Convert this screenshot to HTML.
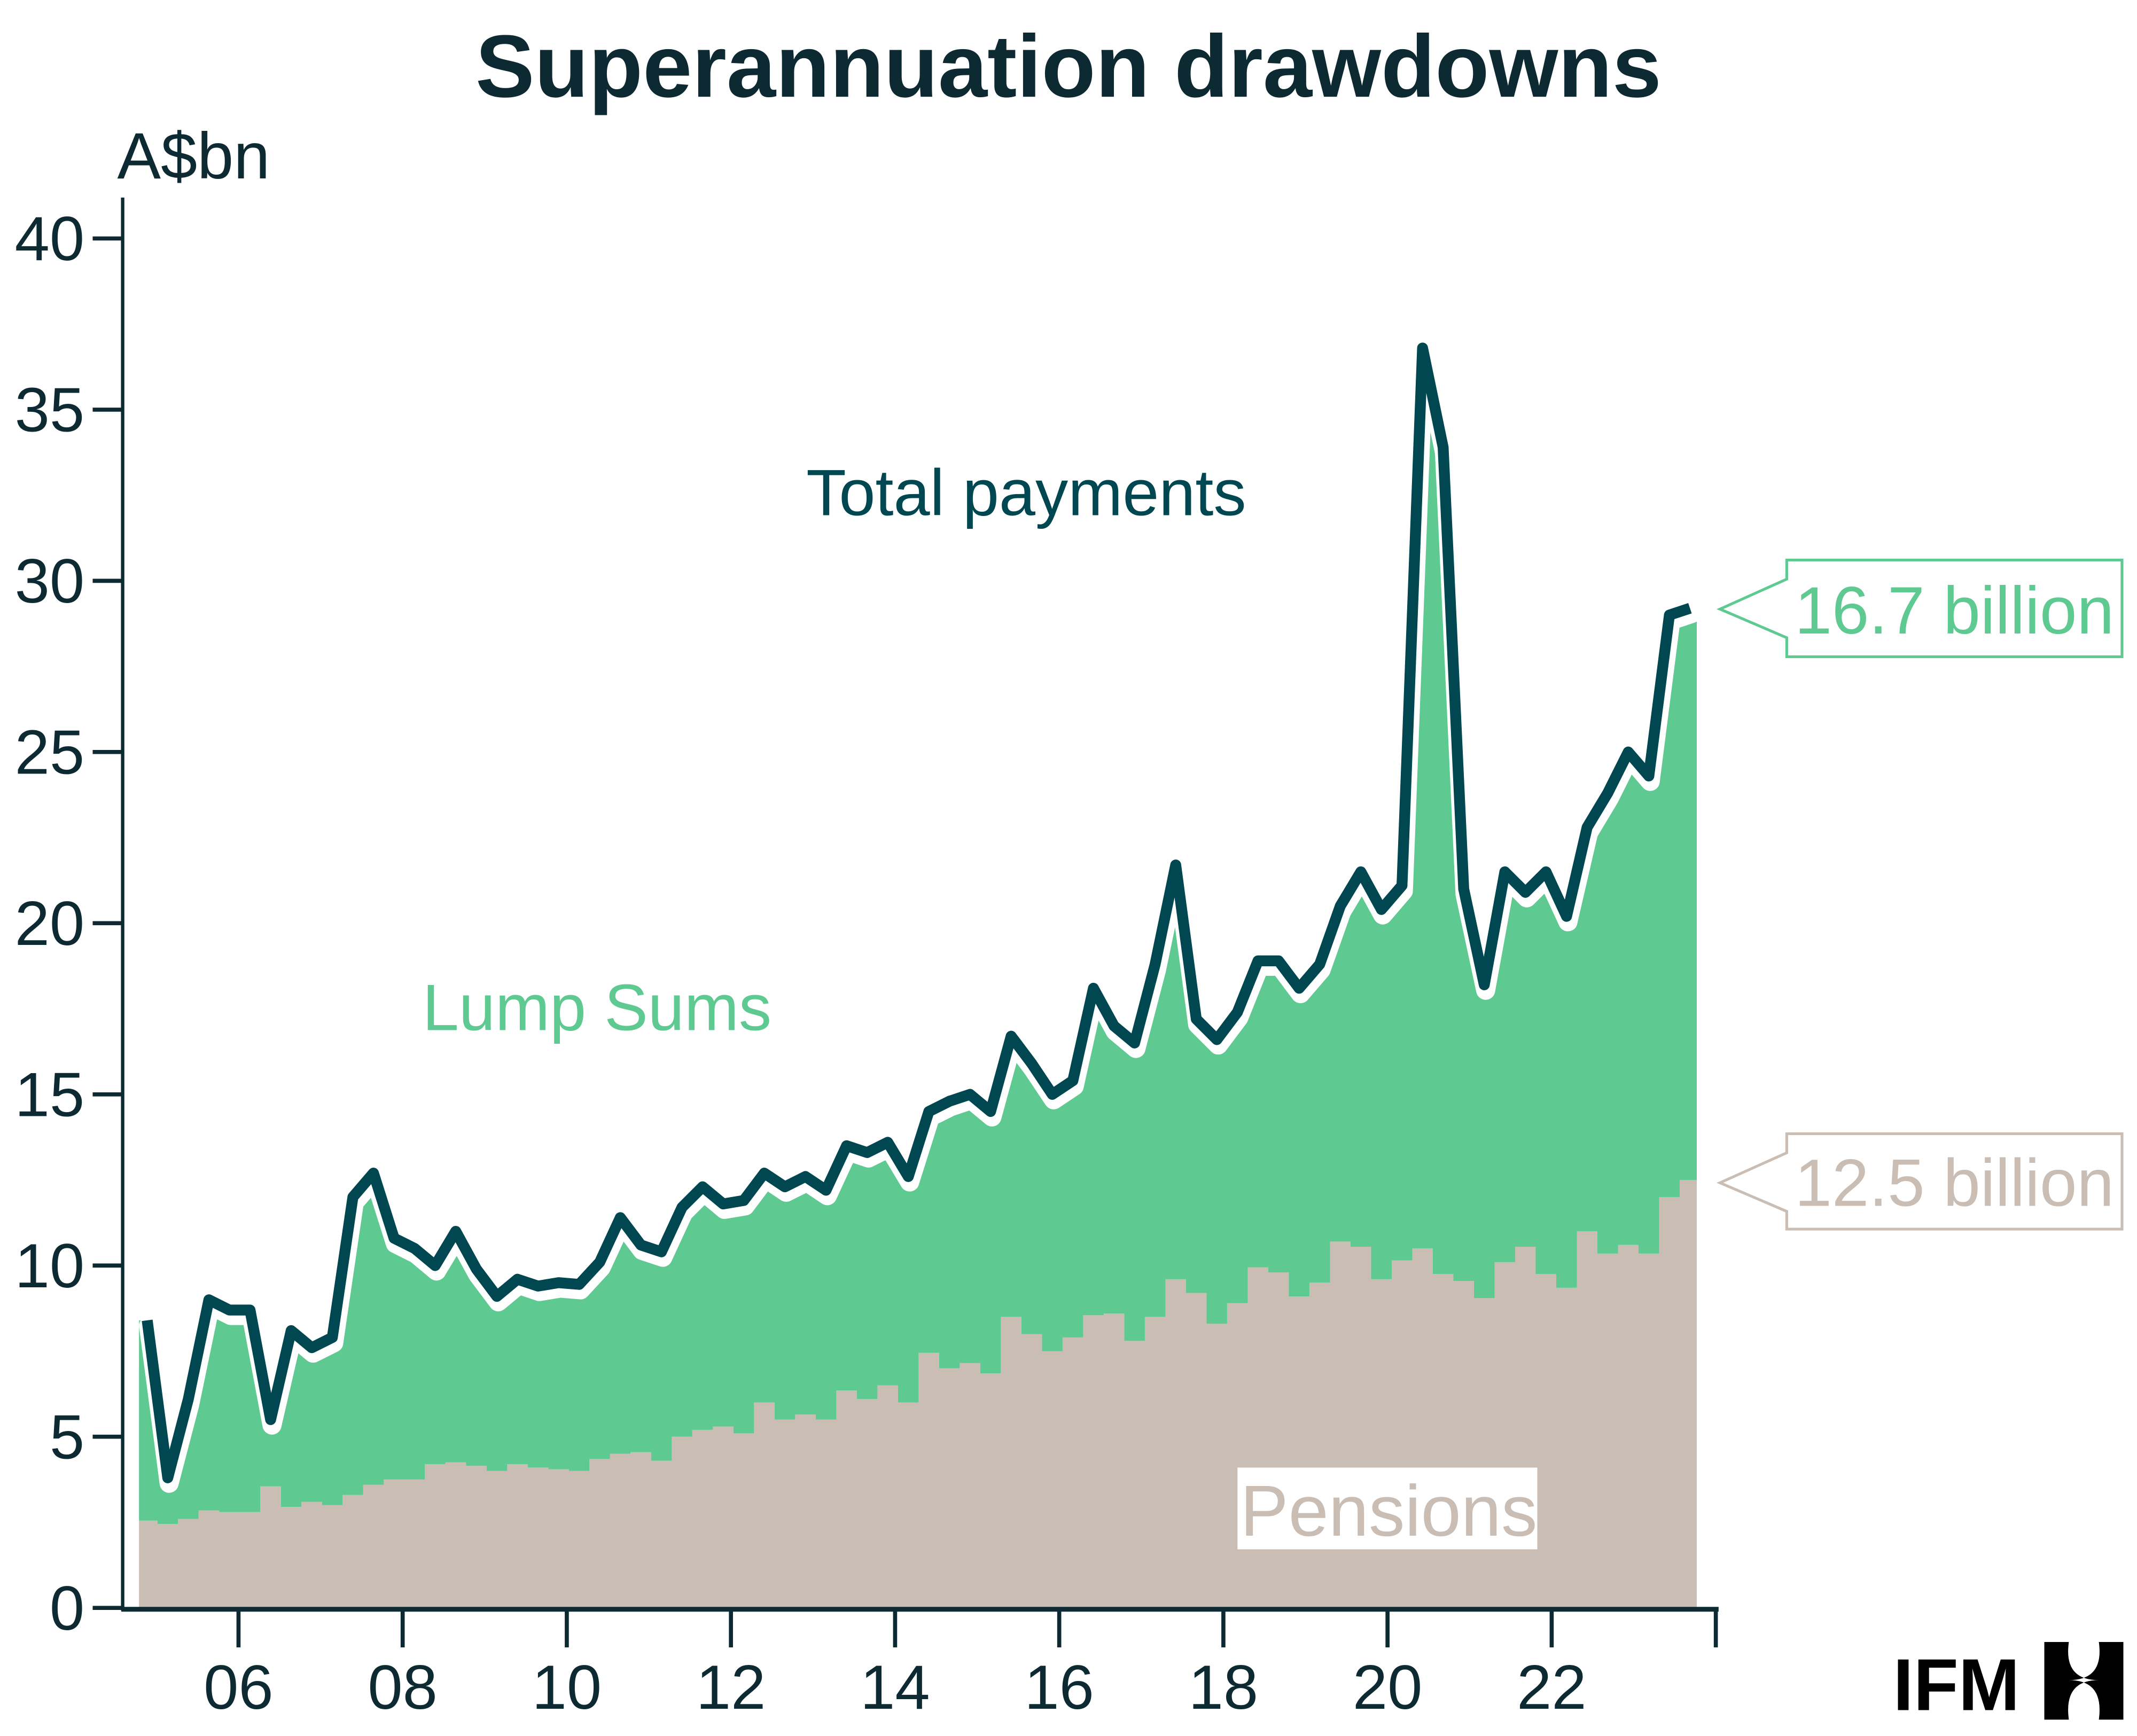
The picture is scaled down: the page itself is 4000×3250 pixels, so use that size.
<!DOCTYPE html>
<html><head><meta charset="utf-8"><style>html,body{margin:0;padding:0;background:#fff}svg{display:block}text{font-family:"Liberation Sans",Arial,sans-serif}</style></head>
<body>
<svg id="chart" width="4000" height="3250" viewBox="0 0 1568 1274" xmlns="http://www.w3.org/2000/svg">
<text x="784" y="71" text-anchor="middle" font-size="65" font-weight="bold" fill="#0d2a33">Superannuation drawdowns</text>
<text x="86" y="131" font-size="48" fill="#0d2a33">A$bn</text>
<g id="pen"></g>
<g id="lump"></g>
<g id="lines"></g>
<g id="axes"></g>
<text x="753" y="378" text-anchor="middle" font-size="48" fill="#004751">Total payments</text>
<text x="310" y="756" font-size="48" fill="#5ec991">Lump Sums</text>
<rect x="908" y="1077" width="220" height="60" fill="#fff"/>
<text x="1019" y="1127" text-anchor="middle" font-size="53" fill="#c9bdb4">Pensions</text>
<g>
<polygon points="1262,447 1311,425 1311,411 1557,411 1557,482 1311,482 1311,468" fill="#fff" stroke="#5ec991" stroke-width="2"/>
<text x="1434" y="465" text-anchor="middle" font-size="49" fill="#5ec991">16.7 billion</text></g>
<g>
<polygon points="1262,868 1311,846 1311,832 1557,832 1557,902 1311,902 1311,889" fill="#fff" stroke="#c9bdb4" stroke-width="2"/>
<text x="1434" y="885" text-anchor="middle" font-size="49" fill="#c9bdb4">12.5 billion</text></g>
<g>
<text x="1389" y="1255" font-size="54" font-weight="bold" fill="#000">IFM</text>
<path d="M1500,1205 h18 q-4,28 22,28 q-26,0 -22,29 h-18 z M1558,1205 h-18 q4,28 -22,28 q26,0 22,29 h18 z" fill="#000"/></g>
</svg>
<script>
const years=["06","08","10","12","14","16","18","20","22"];
const yTicks=[0,5,10,15,20,25,30,35,40];
const totalPayments=[8.4,3.8,6.1,9.0,8.7,8.7,5.5,8.1,7.6,7.9,12.0,12.7,10.8,10.5,10.0,11.0,9.9,9.1,9.6,9.4,9.5,9.45,10.1,11.4,10.6,10.4,11.7,12.3,11.8,11.9,12.7,12.3,12.6,12.2,13.5,13.3,13.6,12.6,14.5,14.8,15.0,14.5,16.7,15.9,15.0,15.4,18.1,17.0,16.5,18.8,21.7,17.2,16.6,17.4,18.9,18.9,18.1,18.8,20.5,21.5,20.4,21.1,36.8,33.9,21.0,18.2,21.5,20.9,21.5,20.2,22.8,23.8,25.0,24.3,29.0,29.2];
const pensions=[2.55,2.45,2.6,2.85,2.8,2.8,3.55,2.95,3.1,3.0,3.3,3.6,3.75,3.75,4.2,4.25,4.15,4.0,4.2,4.1,4.05,4.0,4.35,4.5,4.55,4.3,5.0,5.2,5.3,5.1,6.0,5.5,5.65,5.5,6.35,6.1,6.5,6.0,7.45,7.0,7.15,6.85,8.5,8.0,7.5,7.9,8.55,8.6,7.8,8.5,9.6,9.2,8.3,8.9,9.95,9.8,9.1,9.5,10.7,10.55,9.6,10.15,10.5,9.75,9.55,9.05,10.1,10.55,9.75,9.35,11.0,10.35,10.6,10.35,12.0,12.5];
const NS="http://www.w3.org/2000/svg";
const y=v=>1180-v*25.125;
const n=totalPayments.length;
const x=i=>108+i*(1240-108)/(n-1);
const yearX=yr=>175+(yr-6)*60.22;
function mk(tag,attrs,parent){const e=document.createElementNS(NS,tag);for(const k in attrs)e.setAttribute(k,attrs[k]);parent.appendChild(e);return e;}
const dx=(1240-108)/(n-1);
let d="M102,1180";
pensions.forEach((v,i)=>{const x0=i===0?102:x(i)-dx/2, x1=i===n-1?1245:x(i)+dx/2;d+=` L${x0},${y(v)} L${x1},${y(v)}`;});
d+=" L1245,1180 Z";
const pp=mk("path",{d:d,fill:"#c9bdb4"},document.getElementById("pen"));


let dl="M102,"+y(totalPayments[0]);
totalPayments.forEach((v,i)=>{dl+=` L${x(i)},${y(v)}`;});
dl+=` L1245,${y(totalPayments[n-1])}`;
for(let i=n-1;i>=0;i--){const x0=i===0?102:x(i)-dx/2, x1=i===n-1?1245:x(i)+dx/2;dl+=` L${x1},${y(pensions[i])} L${x0},${y(pensions[i])}`;}
dl+=" Z";
const lp=mk("path",{d:dl,fill:"#5ec991"},document.getElementById("lump"));


const pts=totalPayments.map((v,i)=>`${x(i)},${y(v)}`).join(" ");
const halo=mk("polyline",{points:pts,fill:"none",stroke:"#fff","stroke-width":14,"stroke-linejoin":"round","stroke-linecap":"round",transform:"translate(1,4)"},document.getElementById("lines"));


const tl=mk("polyline",{points:pts,fill:"none",stroke:"#004751","stroke-width":8,"stroke-linejoin":"round"},document.getElementById("lines"));


const ax=document.getElementById("axes");
const yl=mk("line",{x1:90,y1:145,x2:90,y2:1182,stroke:"#0d2a33","stroke-width":2.5},ax);


const xl=mk("line",{x1:89,y1:1181,x2:1261,y2:1181,stroke:"#0d2a33","stroke-width":3.5},ax);


yTicks.forEach(t=>{
 const tk=mk("line",{x1:68,y1:y(t),x2:90,y2:y(t),stroke:"#0d2a33","stroke-width":3},ax);
 
 
 const tx=mk("text",{x:62,y:y(t)+16,"text-anchor":"end","font-size":46,fill:"#0d2a33"},ax);
 tx.textContent=t;
 
 
});
years.concat(["24"]).forEach(l=>{
 const xx=yearX(parseInt(l,10));
 const tk=mk("line",{x1:xx,y1:1181,x2:xx,y2:1209,stroke:"#0d2a33","stroke-width":3},ax);
 
 
 if(l!=="24"){
 const tx=mk("text",{x:xx,y:1254,"text-anchor":"middle","font-size":46,fill:"#0d2a33"},ax);
 tx.textContent=l;
 
 }
});
</script>
</body></html>
